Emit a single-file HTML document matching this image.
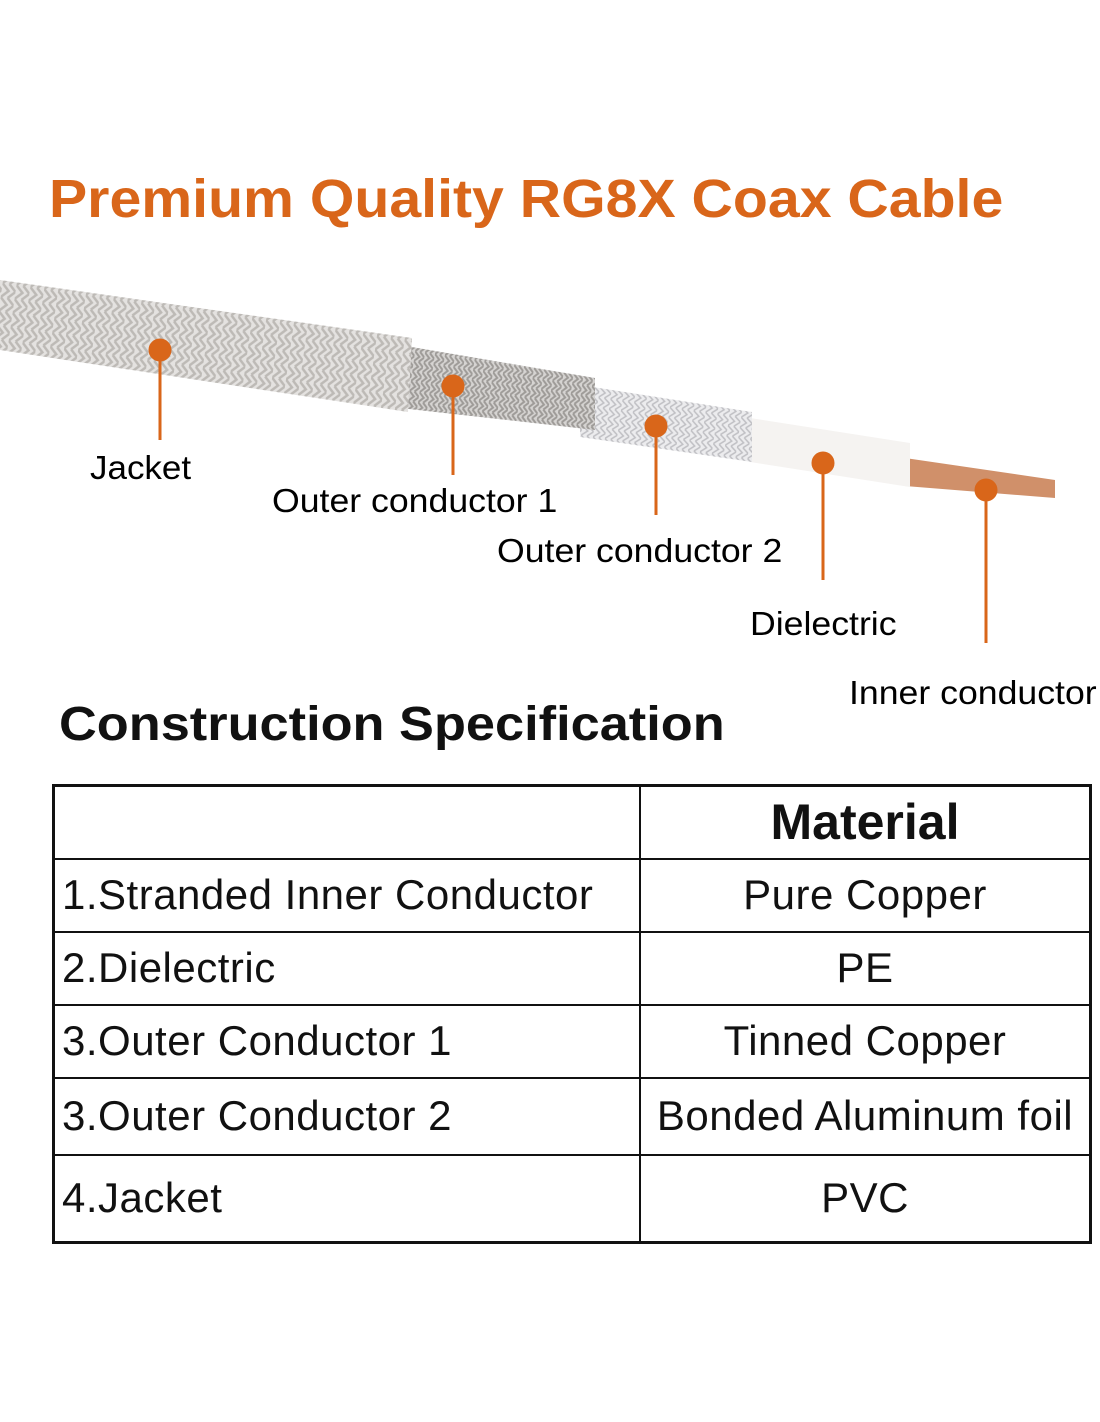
<!DOCTYPE html>
<html><head><style>
body{margin:0;width:1100px;height:1422px;background:#fff;position:relative;overflow:hidden;font-family:"Liberation Sans",Arial,sans-serif}
.t{position:absolute;white-space:nowrap;transform-origin:left top}
table{position:absolute;left:52px;top:784px;width:1040px;border-collapse:collapse;border:3px solid #111}
td{border:2px solid #111;font-size:42px;padding:0 7px;color:#111;white-space:nowrap;letter-spacing:0.5px}
td.c{text-align:center}
</style></head><body>
<div class="t" style="left:49px;top:168px;font-size:54px;font-weight:bold;color:#d9661a;transform:scaleX(1.06)">Premium Quality RG8X Coax Cable</div>
<svg width="1100" height="700" style="position:absolute;left:0;top:0">
<defs>
<pattern id="br" width="14" height="14" patternUnits="userSpaceOnUse" patternTransform="rotate(8)">
<rect width="14" height="14" fill="#e4e2e0"/><path d="M0 0L7 7L0 14M7 0L14 7L7 14" stroke="#bdbab6" stroke-width="2.5" fill="none"/></pattern>
<pattern id="br2" width="10" height="10" patternUnits="userSpaceOnUse" patternTransform="rotate(8)">
<rect width="10" height="10" fill="#d6d4d2"/><path d="M0 0L5 5L0 10M5 0L10 5L5 10" stroke="#9e9b98" stroke-width="2" fill="none"/></pattern>
<pattern id="br3" width="12" height="10" patternUnits="userSpaceOnUse" patternTransform="rotate(8)">
<rect width="12" height="10" fill="#ececee"/><path d="M0 0L6 5L0 10M6 0L12 5L6 10" stroke="#c0c0c4" stroke-width="1.5" fill="none"/></pattern>
</defs>
<polygon points="905,458 1055,480 1055,498 905,486" fill="#d0906a"/>
<polygon points="750,418 910,443 910,487 750,462" fill="#f5f3f1"/>
<polygon points="580,385 752,412 752,462 580,437" fill="url(#br3)"/>
<polygon points="400,345 595,378 595,430 400,408" fill="url(#br2)"/>
<polygon points="0,280 412,338 408,412 0,350" fill="url(#br)"/>
<g fill="#d9661a" stroke="#d9661a" stroke-width="3">
<circle cx="160" cy="350" r="10"/><line x1="160" y1="350" x2="160" y2="440"/>
<circle cx="453" cy="386" r="10"/><line x1="453" y1="386" x2="453" y2="475"/>
<circle cx="656" cy="426" r="10"/><line x1="656" y1="426" x2="656" y2="515"/>
<circle cx="823" cy="463" r="10"/><line x1="823" y1="463" x2="823" y2="580"/>
<circle cx="986" cy="490" r="10"/><line x1="986" y1="490" x2="986" y2="643"/>
</g>
</svg>
<div class="t" style="left:90px;top:449px;font-size:33px;transform:scaleX(1.06)">Jacket</div>
<div class="t" style="left:272px;top:482px;font-size:33px;transform:scaleX(1.08)">Outer conductor 1</div>
<div class="t" style="left:497px;top:532px;font-size:33px;transform:scaleX(1.08)">Outer conductor 2</div>
<div class="t" style="left:750px;top:605px;font-size:33px;transform:scaleX(1.08)">Dielectric</div>
<div class="t" style="left:849px;top:674px;font-size:33px;transform:scaleX(1.08)">Inner conductor</div>
<div class="t" style="left:59px;top:697px;font-size:48px;font-weight:bold;color:#111;transform:scaleX(1.09)">Construction Specification</div>
<table>
<tr style="height:73px"><td style="width:570px"></td><td class="c" style="font-size:50px;font-weight:bold;letter-spacing:0">Material</td></tr>
<tr style="height:73px"><td>1.Stranded Inner Conductor</td><td class="c">Pure Copper</td></tr>
<tr style="height:73px"><td>2.Dielectric</td><td class="c">PE</td></tr>
<tr style="height:73px"><td>3.Outer Conductor 1</td><td class="c">Tinned Copper</td></tr>
<tr style="height:77px"><td>3.Outer Conductor 2</td><td class="c">Bonded Aluminum foil</td></tr>
<tr style="height:88px"><td>4.Jacket</td><td class="c">PVC</td></tr>
</table>
</body></html>
